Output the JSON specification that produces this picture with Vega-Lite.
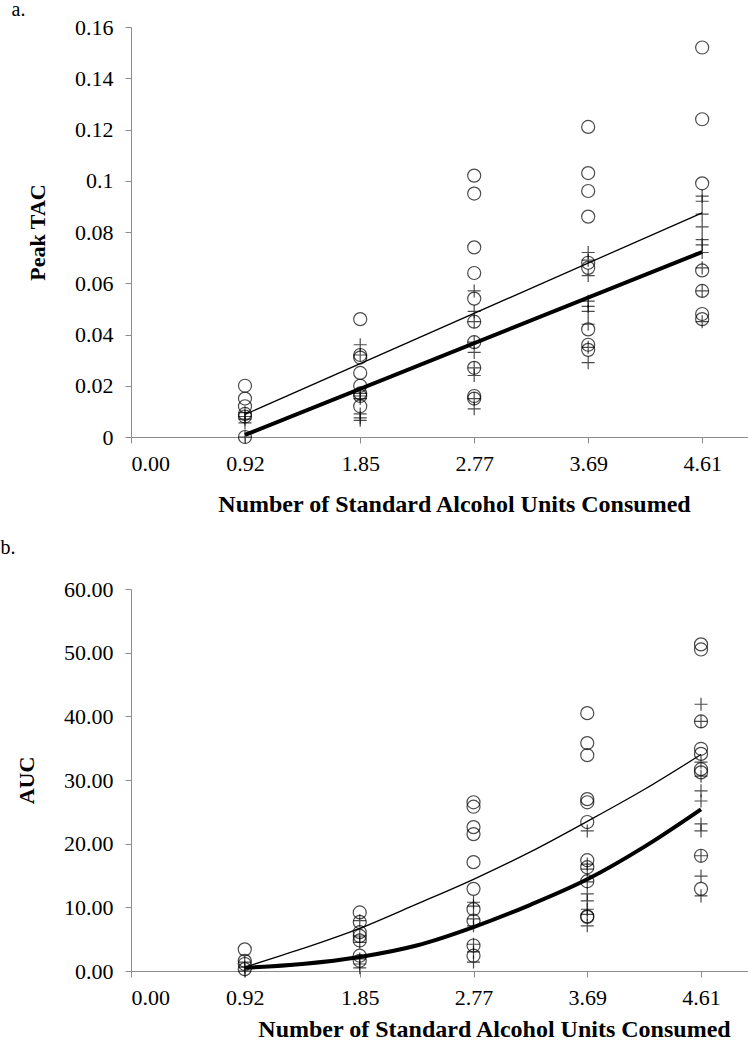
{
  "$schema": "https://vega.github.io/schema/vega-lite/v6.json",
  "padding": {"left": 0, "top": 0, "right": 0, "bottom": 0},
  "background": "white",
  "spacing": 22,
  "config": {
    "view": {"stroke": null},
    "font": "Liberation Serif",
    "axis": {
      "grid": false,
      "domainColor": "#8c8c8c",
      "tickColor": "#8c8c8c",
      "tickSize": 6,
      "labelFont": "Liberation Serif",
      "labelFontSize": 22,
      "labelColor": "black",
      "titleFont": "Liberation Serif",
      "titleFontSize": 24,
      "titleFontWeight": "bold",
      "titleColor": "black"
    },
    "title": {"font": "Liberation Serif", "fontSize": 20, "fontWeight": "normal", "color": "black", "anchor": "start", "frame": "bounds"}
  },
  "datasets": {
    "tac": [
      {"x": 0.92, "y": 0.020, "sex": "Women"}, {"x": 0.92, "y": 0.015, "sex": "Women"}, {"x": 0.92, "y": 0.012, "sex": "Women"}, {"x": 0.92, "y": 0.009, "sex": "Women"}, {"x": 0.92, "y": 0.008, "sex": "Women"}, {"x": 0.92, "y": 0.000, "sex": "Women"},
      {"x": 0.92, "y": 0.0095, "sex": "Men"}, {"x": 0.92, "y": 0.008, "sex": "Men"}, {"x": 0.92, "y": 0.007, "sex": "Men"}, {"x": 0.92, "y": 0.0055, "sex": "Men"}, {"x": 0.92, "y": 0.000, "sex": "Men"},
      {"x": 1.85, "y": 0.046, "sex": "Women"}, {"x": 1.85, "y": 0.032, "sex": "Women"}, {"x": 1.85, "y": 0.031, "sex": "Women"}, {"x": 1.85, "y": 0.025, "sex": "Women"}, {"x": 1.85, "y": 0.020, "sex": "Women"}, {"x": 1.85, "y": 0.017, "sex": "Women"}, {"x": 1.85, "y": 0.016, "sex": "Women"}, {"x": 1.85, "y": 0.012, "sex": "Women"},
      {"x": 1.85, "y": 0.036, "sex": "Men"}, {"x": 1.85, "y": 0.032, "sex": "Men"}, {"x": 1.85, "y": 0.017, "sex": "Men"}, {"x": 1.85, "y": 0.016, "sex": "Men"}, {"x": 1.85, "y": 0.015, "sex": "Men"}, {"x": 1.85, "y": 0.009, "sex": "Men"}, {"x": 1.85, "y": 0.0075, "sex": "Men"}, {"x": 1.85, "y": 0.0065, "sex": "Men"},
      {"x": 2.77, "y": 0.102, "sex": "Women"}, {"x": 2.77, "y": 0.095, "sex": "Women"}, {"x": 2.77, "y": 0.074, "sex": "Women"}, {"x": 2.77, "y": 0.064, "sex": "Women"}, {"x": 2.77, "y": 0.054, "sex": "Women"}, {"x": 2.77, "y": 0.045, "sex": "Women"}, {"x": 2.77, "y": 0.037, "sex": "Women"}, {"x": 2.77, "y": 0.027, "sex": "Women"}, {"x": 2.77, "y": 0.016, "sex": "Women"}, {"x": 2.77, "y": 0.015, "sex": "Women"},
      {"x": 2.77, "y": 0.057, "sex": "Men"}, {"x": 2.77, "y": 0.049, "sex": "Men"}, {"x": 2.77, "y": 0.045, "sex": "Men"}, {"x": 2.77, "y": 0.037, "sex": "Men"}, {"x": 2.77, "y": 0.033, "sex": "Men"}, {"x": 2.77, "y": 0.027, "sex": "Men"}, {"x": 2.77, "y": 0.024, "sex": "Men"}, {"x": 2.77, "y": 0.015, "sex": "Men"}, {"x": 2.77, "y": 0.011, "sex": "Men"},
      {"x": 3.69, "y": 0.121, "sex": "Women"}, {"x": 3.69, "y": 0.103, "sex": "Women"}, {"x": 3.69, "y": 0.096, "sex": "Women"}, {"x": 3.69, "y": 0.086, "sex": "Women"}, {"x": 3.69, "y": 0.068, "sex": "Women"}, {"x": 3.69, "y": 0.066, "sex": "Women"}, {"x": 3.69, "y": 0.042, "sex": "Women"}, {"x": 3.69, "y": 0.036, "sex": "Women"}, {"x": 3.69, "y": 0.034, "sex": "Women"},
      {"x": 3.69, "y": 0.072, "sex": "Men"}, {"x": 3.69, "y": 0.069, "sex": "Men"}, {"x": 3.69, "y": 0.063, "sex": "Men"}, {"x": 3.69, "y": 0.053, "sex": "Men"}, {"x": 3.69, "y": 0.051, "sex": "Men"}, {"x": 3.69, "y": 0.049, "sex": "Men"}, {"x": 3.69, "y": 0.044, "sex": "Men"}, {"x": 3.69, "y": 0.035, "sex": "Men"}, {"x": 3.69, "y": 0.029, "sex": "Men"},
      {"x": 4.61, "y": 0.152, "sex": "Women"}, {"x": 4.61, "y": 0.124, "sex": "Women"}, {"x": 4.61, "y": 0.099, "sex": "Women"}, {"x": 4.61, "y": 0.065, "sex": "Women"}, {"x": 4.61, "y": 0.057, "sex": "Women"}, {"x": 4.61, "y": 0.048, "sex": "Women"}, {"x": 4.61, "y": 0.046, "sex": "Women"},
      {"x": 4.61, "y": 0.094, "sex": "Men"}, {"x": 4.61, "y": 0.092, "sex": "Men"}, {"x": 4.61, "y": 0.087, "sex": "Men"}, {"x": 4.61, "y": 0.082, "sex": "Men"}, {"x": 4.61, "y": 0.077, "sex": "Men"}, {"x": 4.61, "y": 0.075, "sex": "Men"}, {"x": 4.61, "y": 0.072, "sex": "Men"}, {"x": 4.61, "y": 0.066, "sex": "Men"}, {"x": 4.61, "y": 0.057, "sex": "Men"}, {"x": 4.61, "y": 0.045, "sex": "Men"}
    ],
    "tacfit": [
      {"x": 0.92, "y": 0.0088, "sex": "Women"}, {"x": 4.61, "y": 0.0875, "sex": "Women"},
      {"x": 0.92, "y": 0.0008, "sex": "Men"}, {"x": 4.61, "y": 0.0722, "sex": "Men"}
    ],
    "auc": [
      {"x": 0.92, "y": 3.4, "sex": "Women"}, {"x": 0.92, "y": 1.6, "sex": "Women"}, {"x": 0.92, "y": 1.1, "sex": "Women"}, {"x": 0.92, "y": 0.3, "sex": "Women"},
      {"x": 0.92, "y": 1.4, "sex": "Men"}, {"x": 0.92, "y": 0.6, "sex": "Men"}, {"x": 0.92, "y": 0.0, "sex": "Men"},
      {"x": 1.85, "y": 9.2, "sex": "Women"}, {"x": 1.85, "y": 7.7, "sex": "Women"}, {"x": 1.85, "y": 6.1, "sex": "Women"}, {"x": 1.85, "y": 5.5, "sex": "Women"}, {"x": 1.85, "y": 4.8, "sex": "Women"}, {"x": 1.85, "y": 2.4, "sex": "Women"}, {"x": 1.85, "y": 1.6, "sex": "Women"},
      {"x": 1.85, "y": 7.9, "sex": "Men"}, {"x": 1.85, "y": 5.5, "sex": "Men"}, {"x": 1.85, "y": 4.5, "sex": "Men"}, {"x": 1.85, "y": 1.9, "sex": "Men"}, {"x": 1.85, "y": 1.1, "sex": "Men"}, {"x": 1.85, "y": 0.5, "sex": "Men"},
      {"x": 2.77, "y": 26.5, "sex": "Women"}, {"x": 2.77, "y": 25.8, "sex": "Women"}, {"x": 2.77, "y": 22.6, "sex": "Women"}, {"x": 2.77, "y": 21.5, "sex": "Women"}, {"x": 2.77, "y": 17.1, "sex": "Women"}, {"x": 2.77, "y": 12.9, "sex": "Women"}, {"x": 2.77, "y": 9.7, "sex": "Women"}, {"x": 2.77, "y": 7.9, "sex": "Women"}, {"x": 2.77, "y": 4.0, "sex": "Women"}, {"x": 2.77, "y": 2.4, "sex": "Women"},
      {"x": 2.77, "y": 10.8, "sex": "Men"}, {"x": 2.77, "y": 10.2, "sex": "Men"}, {"x": 2.77, "y": 8.2, "sex": "Men"}, {"x": 2.77, "y": 7.1, "sex": "Men"}, {"x": 2.77, "y": 4.2, "sex": "Men"}, {"x": 2.77, "y": 3.0, "sex": "Men"}, {"x": 2.77, "y": 1.4, "sex": "Men"},
      {"x": 3.69, "y": 40.5, "sex": "Women"}, {"x": 3.69, "y": 35.8, "sex": "Women"}, {"x": 3.69, "y": 33.9, "sex": "Women"}, {"x": 3.69, "y": 27.0, "sex": "Women"}, {"x": 3.69, "y": 26.5, "sex": "Women"}, {"x": 3.69, "y": 23.4, "sex": "Women"}, {"x": 3.69, "y": 17.4, "sex": "Women"}, {"x": 3.69, "y": 16.3, "sex": "Women"}, {"x": 3.69, "y": 14.1, "sex": "Women"}, {"x": 3.69, "y": 8.6, "sex": "Women"}, {"x": 3.69, "y": 8.5, "sex": "Women"},
      {"x": 3.69, "y": 22.0, "sex": "Men"}, {"x": 3.69, "y": 16.8, "sex": "Men"}, {"x": 3.69, "y": 16.0, "sex": "Men"}, {"x": 3.69, "y": 14.0, "sex": "Men"}, {"x": 3.69, "y": 12.1, "sex": "Men"}, {"x": 3.69, "y": 11.0, "sex": "Men"}, {"x": 3.69, "y": 9.7, "sex": "Men"}, {"x": 3.69, "y": 8.9, "sex": "Men"}, {"x": 3.69, "y": 7.1, "sex": "Men"},
      {"x": 4.61, "y": 51.3, "sex": "Women"}, {"x": 4.61, "y": 50.5, "sex": "Women"}, {"x": 4.61, "y": 39.2, "sex": "Women"}, {"x": 4.61, "y": 34.9, "sex": "Women"}, {"x": 4.61, "y": 34.1, "sex": "Women"}, {"x": 4.61, "y": 31.7, "sex": "Women"}, {"x": 4.61, "y": 31.2, "sex": "Women"}, {"x": 4.61, "y": 18.1, "sex": "Women"}, {"x": 4.61, "y": 12.9, "sex": "Women"},
      {"x": 4.61, "y": 41.9, "sex": "Men"}, {"x": 4.61, "y": 39.2, "sex": "Men"}, {"x": 4.61, "y": 32.8, "sex": "Men"}, {"x": 4.61, "y": 30.6, "sex": "Men"}, {"x": 4.61, "y": 28.3, "sex": "Men"}, {"x": 4.61, "y": 26.7, "sex": "Men"}, {"x": 4.61, "y": 23.1, "sex": "Men"}, {"x": 4.61, "y": 22.0, "sex": "Men"}, {"x": 4.61, "y": 18.1, "sex": "Men"}, {"x": 4.61, "y": 14.9, "sex": "Men"}, {"x": 4.61, "y": 11.8, "sex": "Men"}
    ],
    "aucfit": [
      {"x": 0.92, "y": 0.6, "sex": "Women"}, {"x": 1.385, "y": 3.5, "sex": "Women"}, {"x": 1.85, "y": 6.7, "sex": "Women"}, {"x": 2.31, "y": 10.5, "sex": "Women"}, {"x": 2.77, "y": 14.4, "sex": "Women"}, {"x": 3.23, "y": 18.7, "sex": "Women"}, {"x": 3.69, "y": 23.5, "sex": "Women"}, {"x": 4.15, "y": 28.5, "sex": "Women"}, {"x": 4.61, "y": 34.0, "sex": "Women"},
      {"x": 0.92, "y": 0.5, "sex": "Men"}, {"x": 1.385, "y": 1.1, "sex": "Men"}, {"x": 1.85, "y": 2.2, "sex": "Men"}, {"x": 2.31, "y": 4.0, "sex": "Men"}, {"x": 2.77, "y": 6.9, "sex": "Men"}, {"x": 3.23, "y": 10.4, "sex": "Men"}, {"x": 3.69, "y": 14.4, "sex": "Men"}, {"x": 4.15, "y": 19.5, "sex": "Men"}, {"x": 4.61, "y": 25.4, "sex": "Men"}
    ]
  },
  "vconcat": [
    {
      "title": {"text": "a.", "offset": -4, "dx": -15},
      "width": 617,
      "height": 410,
      "layer": [
        {
          "data": {"name": "tacfit"},
          "mark": {"type": "line", "color": "black"},
          "encoding": {
            "x": {"field": "x", "type": "quantitative"},
            "y": {"field": "y", "type": "quantitative"},
            "detail": {"field": "sex"},
            "strokeWidth": {"field": "sex", "type": "nominal", "scale": {"domain": ["Women", "Men"], "range": [1.3, 4]}, "legend": null}
          }
        },
        {
          "data": {"name": "tac"},
          "mark": {"type": "point", "filled": false, "color": "black", "strokeWidth": 1.2, "size": 170},
          "encoding": {
            "x": {"field": "x", "type": "quantitative", "scale": {"domain": [0, 4.98], "nice": false},
              "axis": {"values": [0, 0.92, 1.85, 2.77, 3.69, 4.61], "format": ".2f", "title": "Number of Standard Alcohol Units Consumed", "labelPadding": 10, "titlePadding": 18, "titleX": 323, "titleAnchor": "middle"}},
            "y": {"field": "y", "type": "quantitative", "scale": {"domain": [0, 0.16], "nice": false},
              "axis": {"values": [0, 0.02, 0.04, 0.06, 0.08, 0.1, 0.12, 0.14, 0.16], "format": "~g", "title": "Peak TAC", "titleFontSize": 22, "labelPadding": 12, "titlePadding": 25}},
            "shape": {"field": "sex", "type": "nominal", "scale": {"domain": ["Women", "Men"], "range": ["circle", "M-1,0H1M0,-1V1"]},
              "legend": {"title": null, "orient": "none", "legendX": 48, "legendY": 10}}
          }
        }
      ]
    },
    {
      "title": {"text": "b.", "offset": 20, "dx": -15},
      "width": 617,
      "height": 382,
      "layer": [
        {
          "data": {"name": "aucfit"},
          "mark": {"type": "line", "color": "black", "interpolate": "monotone"},
          "encoding": {
            "x": {"field": "x", "type": "quantitative"},
            "y": {"field": "y", "type": "quantitative"},
            "detail": {"field": "sex"},
            "strokeWidth": {"field": "sex", "type": "nominal", "scale": {"domain": ["Women", "Men"], "range": [1.3, 4]}, "legend": null}
          }
        },
        {
          "data": {"name": "auc"},
          "mark": {"type": "point", "filled": false, "color": "black", "strokeWidth": 1.2, "size": 170},
          "encoding": {
            "x": {"field": "x", "type": "quantitative", "scale": {"domain": [0, 4.99], "nice": false},
              "axis": {"values": [0, 0.92, 1.85, 2.77, 3.69, 4.61], "format": ".2f", "title": "Number of Standard Alcohol Units Consumed", "labelPadding": 10, "titlePadding": 9, "titleX": 363, "titleAnchor": "middle"}},
            "y": {"field": "y", "type": "quantitative", "scale": {"domain": [0, 60], "nice": false},
              "axis": {"values": [0, 10, 20, 30, 40, 50, 60], "format": ".2f", "title": "AUC", "titleFontSize": 22, "labelPadding": 12, "titlePadding": 25}},
            "shape": {"field": "sex", "type": "nominal", "scale": {"domain": ["Women", "Men"], "range": ["circle", "M-1,0H1M0,-1V1"]},
              "legend": {"title": null, "orient": "none", "legendX": 48, "legendY": 2}}
          }
        }
      ]
    }
  ]
}
